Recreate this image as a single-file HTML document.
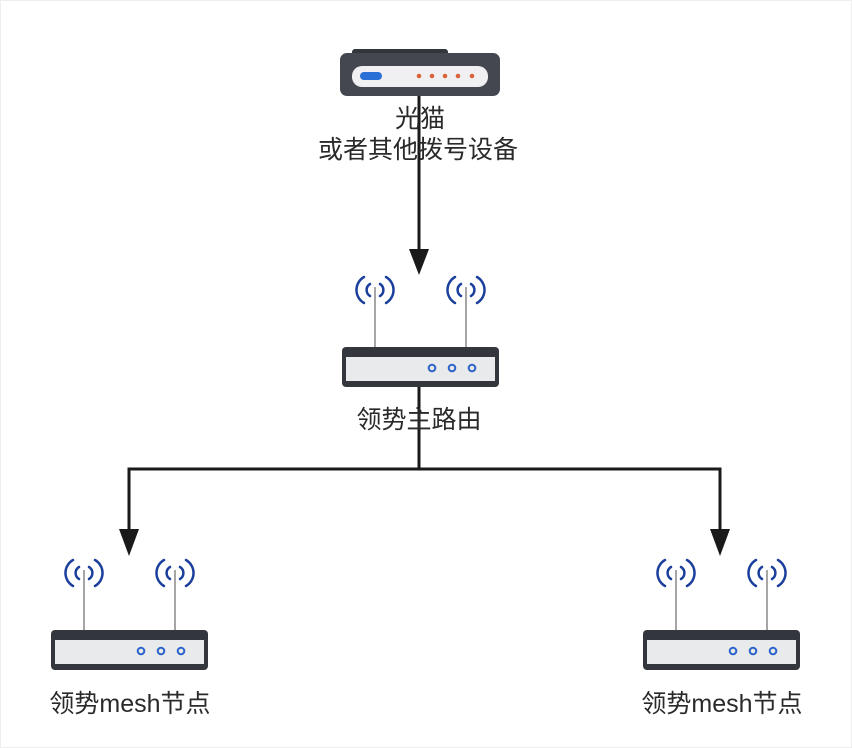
<!DOCTYPE html>
<html><head><meta charset="utf-8"><style>
html,body{margin:0;padding:0;background:#fff;}
svg{display:block}
text{font-family:"Liberation Sans","Noto Sans CJK SC",sans-serif;fill:#2a2a2a;}
</style></head><body>
<svg width="852" height="748" viewBox="0 0 852 748" xmlns="http://www.w3.org/2000/svg">
<defs>
<g id="r">
 <line x1="33" y1="-60" x2="33" y2="0" stroke="#888" stroke-width="1.5"/>
 <line x1="124" y1="-60" x2="124" y2="0" stroke="#888" stroke-width="1.5"/>
 <g fill="none" stroke="#1a3f9c" stroke-width="2.5" stroke-linecap="round">
  <path d="M28,-63 A7,7 0 0 0 28,-51"/><path d="M38,-63 A7,7 0 0 1 38,-51"/>
  <path d="M22,-70 A15,15 0 0 0 22,-44"/><path d="M44,-70 A15,15 0 0 1 44,-44"/>
  <path d="M119,-63 A7,7 0 0 0 119,-51"/><path d="M129,-63 A7,7 0 0 1 129,-51"/>
  <path d="M113,-70 A15,15 0 0 0 113,-44"/><path d="M135,-70 A15,15 0 0 1 135,-44"/>
 </g>
 <rect x="0" y="0" width="157" height="40" rx="4" fill="#33363d"/>
 <rect x="4" y="10" width="149" height="24" fill="#e9eaec"/>
 <g fill="none" stroke="#2a62c9" stroke-width="2">
  <circle cx="90" cy="21" r="3.3"/><circle cx="110" cy="21" r="3.3"/><circle cx="130" cy="21" r="3.3"/>
 </g>
</g>
</defs>
<rect x="0.5" y="0.5" width="851" height="747" fill="none" stroke="#eeeeee"/>
<!-- modem -->
<rect x="352" y="49" width="96" height="8" rx="3" fill="#33363d"/>
<rect x="340" y="53" width="160" height="43" rx="7" fill="#44474f"/>
<rect x="352" y="66" width="136" height="21" rx="10" fill="#f0f0f2"/>
<rect x="360" y="72" width="22" height="8" rx="4" fill="#2a6fd6"/>
<g fill="#d9643a"><circle cx="419" cy="76" r="2.3"/><circle cx="432" cy="76" r="2.3"/><circle cx="445" cy="76" r="2.3"/><circle cx="458" cy="76" r="2.3"/><circle cx="472" cy="76" r="2.3"/></g>
<!-- connectors -->
<g stroke="#1a1a1a" stroke-width="3" fill="none">
 <line x1="419" y1="96" x2="419" y2="252"/>
 <line x1="419" y1="386" x2="419" y2="469"/>
 <polyline points="129,532 129,469 720,469 720,532"/>
</g>
<g fill="#1a1a1a">
 <polygon points="409,249 429,249 419,275"/>
 <polygon points="119,529 139,529 129,556"/>
 <polygon points="710,529 730,529 720,556"/>
</g>
<text x="420" y="127" font-size="25" text-anchor="middle">光猫</text>
<text x="418" y="158" font-size="25" text-anchor="middle">或者其他拨号设备</text>
<use href="#r" x="342" y="347"/>
<use href="#r" x="51" y="630"/>
<use href="#r" x="643" y="630"/>
<text x="419" y="428" font-size="25" text-anchor="middle">领势主路由</text>
<text x="130" y="712" font-size="25" text-anchor="middle">领势mesh节点</text>
<text x="722" y="712" font-size="25" text-anchor="middle">领势mesh节点</text>
</svg>
</body></html>
